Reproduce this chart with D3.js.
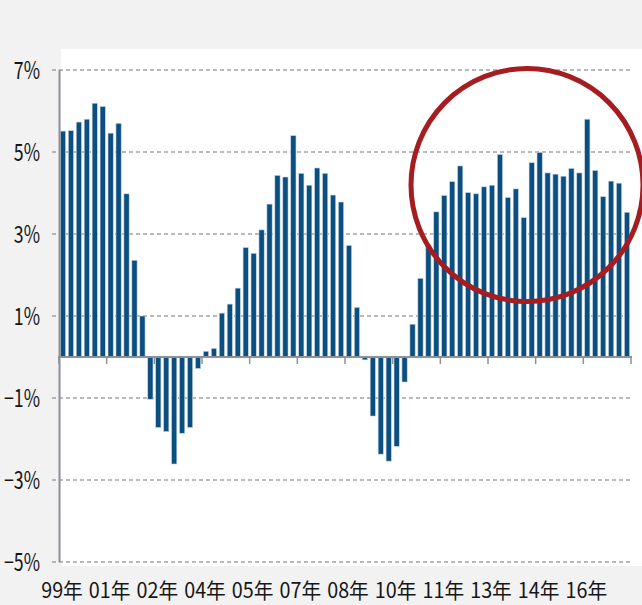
<!DOCTYPE html>
<html>
<head>
  <meta charset="utf-8">
  <script src="https://cdn.jsdelivr.net/npm/d3@7"></script>
  <style>
    body { margin: 0; background: #f2f2f2; }
    text { font-family: "Noto Sans CJK JP", "Noto Sans", sans-serif; fill: #161616; }
  </style>
</head>
<body>
  <div id="chart"></div>
  <script>
    // quarterly values, 1999Q1 - 2016Q4 (%)
    var years = d3.range(1999, 2017);
    var quarters = [];
    years.forEach(function(y) {
      for (var q = 1; q <= 4; q++) quarters.push(y + "Q" + q);
    });

    var values = [
      5.51, 5.52, 5.73, 5.80, 6.19, 6.11, 5.46, 5.70,
      3.98, 2.36, 1.00, -1.03, -1.72, -1.82, -2.61, -1.86,
      -1.72, -0.28, 0.14, 0.21, 1.07, 1.29, 1.68, 2.67,
      2.53, 3.10, 3.73, 4.43, 4.39, 5.40, 4.48, 4.19,
      4.61, 4.48, 3.95, 3.78, 2.72, 1.21, -0.07, -1.44,
      -2.37, -2.54, -2.18, -0.61, 0.80, 1.92, 2.73, 3.54,
      3.94, 4.28, 4.66, 4.01, 3.98, 4.15, 4.19, 4.94,
      3.89, 4.10, 3.40, 4.74, 4.99, 4.49, 4.46, 4.41,
      4.60, 4.49, 5.80, 4.55, 3.91, 4.29, 4.24, 3.53
    ];

    var yTicks = [7, 5, 3, 1, -1, -3, -5];
    var yTickLabels = ["7%", "5%", "3%", "1%", "\u22121%", "\u22123%", "\u22125%"];
    var xTickLabels = ["99年", "01年", "02年", "04年", "05年", "07年", "08年", "10年", "11年", "13年", "14年", "16年"];

    var width = 642, height = 605;
    var axisColor = "#8d9197";
    var barColor = "#0b4e80";

    var svg = d3.select("#chart").append("svg")
        .attr("width", width)
        .attr("height", height);

    svg.append("rect")
        .attr("width", width).attr("height", height)
        .attr("fill", "#f2f2f2");

    // white plot area
    svg.append("rect")
        .attr("x", 61).attr("y", 49)
        .attr("width", width - 61).attr("height", 517)
        .attr("fill", "#ffffff");

    var x = d3.scaleBand()
        .domain(quarters)
        .range([59, 631])
        .paddingInner(0.34)
        .paddingOuter(0.17);

    var y = d3.scaleLinear()
        .domain([-5, 7])
        .range([562, 70]);

    // gridlines
    svg.selectAll("line.grid")
        .data(yTicks)
      .enter().append("line")
        .attr("class", "grid")
        .attr("x1", 52).attr("x2", 632)
        .attr("y1", function(d) { return y(d); })
        .attr("y2", function(d) { return y(d); })
        .attr("stroke", "#a3a3a3")
        .attr("stroke-width", 1.5)
        .attr("stroke-dasharray", "4,3");

    // y labels (narrow, tall glyphs)
    svg.selectAll("text.ylab")
        .data(yTicks)
      .enter().append("text")
        .attr("class", "ylab")
        .attr("transform", function(d) { return "translate(40," + y(d) + ") scale(0.74,1)"; })
        .attr("dy", "0.38em")
        .attr("text-anchor", "end")
        .style("font-size", "24px")
        .text(function(d, i) { return yTickLabels[i]; });

    // bars
    svg.selectAll("rect.bar")
        .data(values)
      .enter().append("rect")
        .attr("class", "bar")
        .attr("x", function(d, i) { return x(quarters[i]); })
        .attr("width", x.bandwidth())
        .attr("y", function(d) { return y(Math.max(0, d)); })
        .attr("height", function(d) { return Math.abs(y(d) - y(0)); })
        .attr("fill", barColor)
        .attr("stroke", "#c6d5e3")
        .attr("stroke-width", 0.6);

    // y axis line
    svg.append("line")
        .attr("x1", 59.5).attr("x2", 59.5)
        .attr("y1", y(7)).attr("y2", y(-5))
        .attr("stroke", axisColor)
        .attr("stroke-width", 2);

    // x baseline + ticks every 6 quarters
    var half = x.step() * x.paddingOuter();
    var tickPos = d3.range(0, 13).map(function(i) {
      var q = quarters[Math.min(i * 6, quarters.length - 1)];
      return i * 6 < quarters.length ? x(q) - half : x(q) + x.step() - half;
    });

    svg.append("line")
        .attr("x1", 58).attr("x2", 632)
        .attr("y1", y(0)).attr("y2", y(0))
        .attr("stroke", axisColor)
        .attr("stroke-width", 2);

    svg.selectAll("line.xtick")
        .data(tickPos)
      .enter().append("line")
        .attr("class", "xtick")
        .attr("x1", function(d) { return d; })
        .attr("x2", function(d) { return d; })
        .attr("y1", y(0)).attr("y2", y(0) + 7)
        .attr("stroke", axisColor)
        .attr("stroke-width", 1.5);

    svg.selectAll("text.xlab")
        .data(xTickLabels)
      .enter().append("text")
        .attr("class", "xlab")
        .attr("transform", function(d, i) { return "translate(" + (tickPos[i] + 3) + ",598) scale(0.94,1)"; })
        .attr("text-anchor", "middle")
        .style("font-size", "21px")
        .text(function(d) { return d; });

    // red highlight circle
    svg.append("ellipse")
        .attr("cx", 527).attr("cy", 185)
        .attr("rx", 116).attr("ry", 116.5)
        .attr("fill", "none")
        .attr("stroke", "#a61d21")
        .attr("stroke-width", 5);
  </script>
</body>
</html>
